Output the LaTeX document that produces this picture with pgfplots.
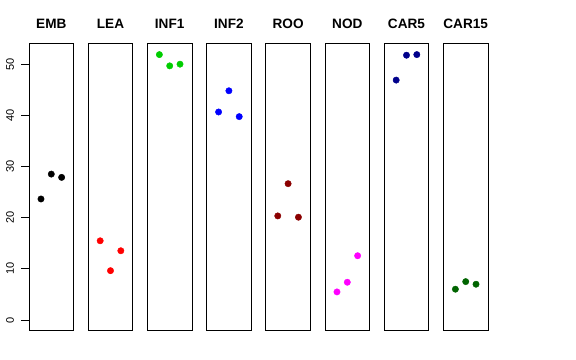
\documentclass[border=0pt]{standalone}
\usepackage{pgfplots}
\pgfplotsset{compat=1.18}
\usepackage{fontspec}
\setmainfont{Liberation Sans}
\definecolor{cgreen}{RGB}{0,205,0}
\definecolor{cdarkred}{RGB}{139,0,0}
\definecolor{cmagenta}{RGB}{255,0,255}
\definecolor{cdarkblue}{RGB}{0,0,139}
\definecolor{cdarkgreen}{RGB}{0,100,0}
\definecolor{cblue}{RGB}{0,0,255}
\definecolor{cred}{RGB}{255,0,0}
\pgfplotsset{
  panelstyle/.style={
    anchor=south west,
    scale only axis,
    width=44.6bp, height=287.4bp,
    xmin=-0.16, xmax=4.16, ymin=-2.08, ymax=54.08,
    xtick=\empty, ytick=\empty,
    axis line style={line width=0.8bp, black},
    title style={at={(0.5,1)}, anchor=base, yshift=9bp, inner sep=0pt,
      font=\fontsize{13.6bp}{16bp}\selectfont\bfseries},
  },
}
\newcommand{\panel}[4]{%
  \begin{axis}[panelstyle, at={(#1,29.3bp)}, title={#2}]
  \addplot[only marks, mark=*, mark size=3.2bp, color=#3, mark options={draw=#3, fill=#3}] coordinates {#4};
  \end{axis}}
\begin{document}
\begin{tikzpicture}
\useasboundingbox (0,0) rectangle (576bp,360bp);
\begin{axis}[panelstyle, at={(29bp,29.3bp)}, title={EMB},
  ytick={0,10,20,30,40,50}, ytick pos=left, tick align=outside,
  major tick length=7.5bp, tick style={line width=0.8bp, black},
  /pgf/number format/assume math mode=true,
  yticklabel style={rotate=90, anchor=south, yshift=4bp, font=\fontsize{11bp}{13bp}\selectfont}]
\addplot[only marks, mark=*, mark size=3.2bp, color=black] coordinates {(1,23.66) (2,28.52) (3,27.88)};
\end{axis}
\panel{88.2bp}{LEA}{cred}{(1,15.49) (2,9.65) (3,13.54)}
\panel{147.4bp}{INF1}{cgreen}{(1,51.87) (2,49.67) (3,50.0)}
\panel{206.6bp}{INF2}{cblue}{(1,40.66) (2,44.8) (3,39.75)}
\panel{265.8bp}{ROO}{cdarkred}{(1,20.35) (2,26.65) (3,20.1)}
\panel{325.0bp}{NOD}{cmagenta}{(1,5.5) (2,7.39) (3,12.57)}
\panel{384.2bp}{CAR5}{cdarkblue}{(1,46.89) (2,51.75) (3,51.87)}
\panel{443.4bp}{CAR15}{cdarkgreen}{(1,6.03) (2,7.51) (3,7.0)}
\end{tikzpicture}
\end{document}
